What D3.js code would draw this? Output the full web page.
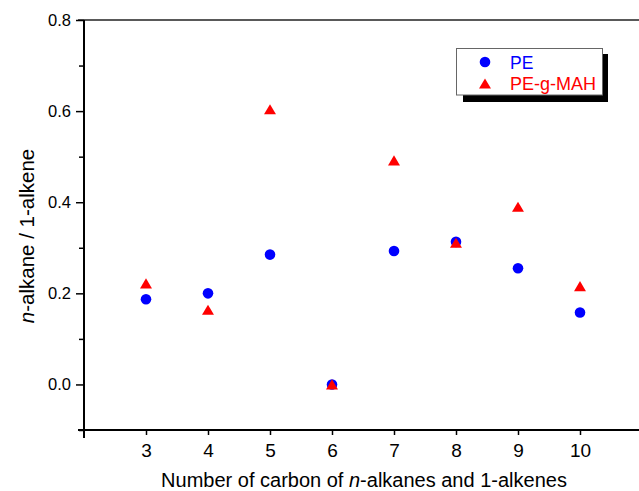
<!DOCTYPE html>
<html>
<head>
<meta charset="utf-8">
<script src="https://cdn.jsdelivr.net/npm/d3@7"></script>
<style>
  html, body { margin: 0; padding: 0; background: #fff; }
  svg { display: block; }
  text { font-family: "Liberation Sans", Arial, sans-serif; }
</style>
</head>
<body>
<svg id="chart" width="639" height="491"></svg>
<script>
// ---- data ----
const carbons = [3, 4, 5, 6, 7, 8, 9, 10];
const pe = [0.187, 0.200, 0.285, 0.0, 0.293, 0.313, 0.255, 0.158];
const peGMah = [0.222, 0.164, 0.604, 0.0, 0.492, 0.311, 0.390, 0.216];
const seriesNames = ["PE", "PE-g-MAH"];
const yTicks = [0.0, 0.2, 0.4, 0.6, 0.8];
const yMinorTicks = [-0.1, 0.1, 0.3, 0.5, 0.7];
const xTicks = [3, 4, 5, 6, 7, 8, 9, 10];
const xTitle = ["Number of carbon of ", "n", "-alkanes and 1-alkenes"];
const yTitle = ["n", "-alkane / 1-alkene"];

// ---- layout ----
const svg = d3.select("#chart");
const x = d3.scaleLinear().domain([2, 11]).range([84, 642]);
const y = d3.scaleLinear().domain([-0.1, 0.8]).range([430, 20]);

// top frame line
svg.append("line")
  .attr("x1", 78).attr("x2", 639)
  .attr("y1", y(0.8)).attr("y2", y(0.8))
  .attr("stroke", "#222").attr("stroke-width", 1.3);

// y axis major
const yAxis = svg.append("g")
  .attr("transform", `translate(${x(2)},0)`)
  .call(d3.axisLeft(y).tickValues(yTicks).tickFormat(d3.format(".1f")).tickSize(8).tickPadding(5));
yAxis.select(".domain").remove();
yAxis.selectAll(".tick line").attr("stroke", "#000").attr("stroke-width", 1.5);
yAxis.selectAll(".tick text")
  .attr("font-size", 16.5).attr("fill", "#000")
  .attr("font-family", "Liberation Sans, Arial, sans-serif");

// y axis minor
const yMinor = svg.append("g")
  .attr("transform", `translate(${x(2)},0)`)
  .call(d3.axisLeft(y).tickValues(yMinorTicks).tickFormat("").tickSize(5));
yMinor.select(".domain").remove();
yMinor.selectAll(".tick line").attr("stroke", "#000").attr("stroke-width", 1.5);

// x axis
const xAxis = svg.append("g")
  .attr("transform", `translate(0,${y(-0.1)})`)
  .call(d3.axisBottom(x).tickValues(xTicks).tickFormat(d3.format("d")).tickSize(5).tickPadding(9));
xAxis.select(".domain").remove();
xAxis.selectAll(".tick line").attr("stroke", "#000").attr("stroke-width", 1.5);
xAxis.selectAll(".tick text")
  .attr("font-size", 19).attr("fill", "#000")
  .attr("font-family", "Liberation Sans, Arial, sans-serif");

// axis lines
svg.append("line")
  .attr("x1", x(2)).attr("x2", x(2))
  .attr("y1", y(0.8)).attr("y2", y(-0.1) + 8)
  .attr("stroke", "#000").attr("stroke-width", 2);
svg.append("line")
  .attr("x1", x(2) - 6).attr("x2", 639)
  .attr("y1", y(-0.1)).attr("y2", y(-0.1))
  .attr("stroke", "#000").attr("stroke-width", 2);

// axis titles
const xt = svg.append("text")
  .attr("x", 364).attr("y", 487)
  .attr("text-anchor", "middle")
  .attr("font-size", 20).attr("fill", "#000");
xt.append("tspan").text(xTitle[0]);
xt.append("tspan").attr("font-style", "italic").text(xTitle[1]);
xt.append("tspan").text(xTitle[2]);

const yt = svg.append("text")
  .attr("transform", "translate(34,236) rotate(-90)")
  .attr("text-anchor", "middle")
  .attr("font-size", 20.5).attr("fill", "#000");
yt.append("tspan").attr("font-style", "italic").text(yTitle[0]);
yt.append("tspan").text(yTitle[1]);

// triangle symbol centered on its bounding box
const triBox = {
  draw(ctx, size) {
    const w = Math.sqrt(size * 4 / Math.sqrt(3));
    const h = w * 0.85;
    ctx.moveTo(0, -h / 2);
    ctx.lineTo(w / 2, h / 2);
    ctx.lineTo(-w / 2, h / 2);
    ctx.closePath();
  }
};
const triPath = d3.symbol().type(triBox).size(62);

// points
svg.append("g").selectAll("circle")
  .data(carbons.map((c, i) => ({ c, v: pe[i] })))
  .join("circle")
  .attr("cx", d => x(d.c)).attr("cy", d => y(d.v))
  .attr("r", 5.3).attr("fill", "#0000ff");

svg.append("g").selectAll("path")
  .data(carbons.map((c, i) => ({ c, v: peGMah[i] })))
  .join("path")
  .attr("d", triPath)
  .attr("transform", d => `translate(${x(d.c)},${y(d.v)})`)
  .attr("fill", "#ff0000");

// legend
const lg = svg.append("g");
lg.append("rect").attr("x", 463).attr("y", 54).attr("width", 145).attr("height", 48).attr("fill", "#000");
lg.append("rect").attr("x", 456.5).attr("y", 48.5).attr("width", 146).attr("height", 46.5)
  .attr("fill", "#fff").attr("stroke", "#666").attr("stroke-width", 1);
lg.append("circle").attr("cx", 485).attr("cy", 62).attr("r", 5.3).attr("fill", "#0000ff");
lg.append("path").attr("d", triPath).attr("transform", "translate(485,83.5)").attr("fill", "#ff0000");
lg.append("text").attr("x", 510).attr("y", 69).attr("font-size", 17.5).attr("fill", "#0000ff")
  .text(seriesNames[0]);
lg.append("text").attr("x", 510).attr("y", 90).attr("font-size", 17.5).attr("fill", "#ff0000")
  .text(seriesNames[1]).attr("textLength", 86).attr("lengthAdjust", "spacingAndGlyphs");
</script>
</body>
</html>
